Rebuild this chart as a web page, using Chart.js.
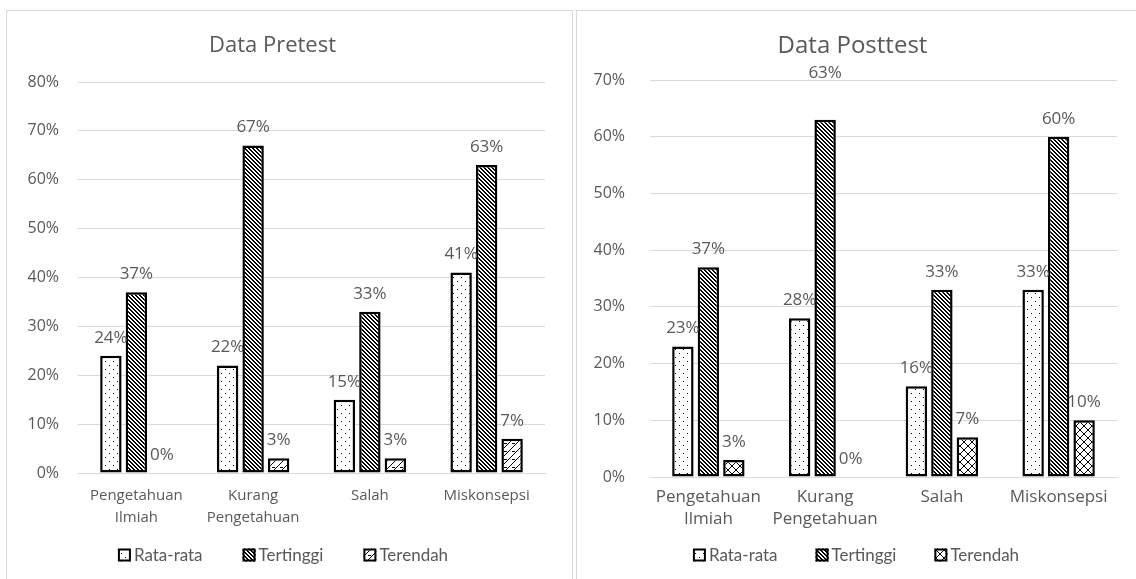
<!DOCTYPE html>
<html>
<head>
<meta charset="utf-8">
<script src="https://cdn.jsdelivr.net/npm/chart.js@4.4.1/dist/chart.umd.min.js"></script>
<style>
  html, body { margin: 0; padding: 0; background: #fff; }
  body { width: 1136px; height: 579px; position: relative; overflow: hidden; }
  .panel { position: absolute; border: 1px solid #d9d9d9; box-sizing: border-box; }
  canvas { position: absolute; top: 0; }
</style>
</head>
<body>
<div class="panel" style="left:6px; top:10px; width:567px; height:620px;"></div>
<div class="panel" style="left:576px; top:10px; width:620px; height:620px;"></div>
<canvas id="pre" width="574" height="579" style="left:0px;"></canvas>
<canvas id="post" width="562" height="579" style="left:574px;"></canvas>
<script>
// Categories (multi-line tick labels) and series, in percent
const categories = [['Pengetahuan', 'Ilmiah'], ['Kurang', 'Pengetahuan'], 'Salah', 'Miskonsepsi'];
const seriesNames = ['Rata-rata', 'Tertinggi', 'Terendah'];

const pretestRata = [24, 22, 15, 41];
const pretestTertinggi = [37, 67, 33, 63];
const pretestTerendah = [0, 3, 3, 7];

const posttestRata = [23, 28, 16, 33];
const posttestTertinggi = [37, 63, 33, 60];
const posttestTerendah = [3, 0, 7, 10];

const pretestTicksMax = 80;
const posttestTicksMax = 70;

const GREY = '#595959';

// Small monochrome fill patterns, one tile each
function makePattern(ctx, size, draw) {
  const c = document.createElement('canvas');
  c.width = size; c.height = size;
  const g = c.getContext('2d');
  g.fillStyle = '#ffffff';
  g.fillRect(0, 0, size, size);
  g.fillStyle = '#000000';
  draw(g, size);
  return ctx.createPattern(c, 'repeat');
}
const px = (g, x, y) => g.fillRect(x, y, 1, 1);

function dots(ctx) {
  return makePattern(ctx, 8, g => { px(g, 1, 1); px(g, 5, 5); });
}
function denseDown(ctx) {
  return makePattern(ctx, 4, g => {
    for (let i = 0; i < 4; i++) { px(g, i, i); px(g, (i + 1) % 4, i); }
  });
}
function wideUp(ctx) {
  return makePattern(ctx, 8, g => {
    for (let i = 0; i < 8; i++) { px(g, i, 7 - i); }
    px(g, 0, 3); px(g, 1, 3); px(g, 2, 3);
  });
}
function shingle(ctx) {
  return makePattern(ctx, 8, g => {
    for (let i = 0; i < 8; i++) { px(g, i, 7 - i); }
    for (let i = 0; i < 4; i++) { px(g, i, i + 4); }
    for (let i = 4; i < 8; i++) { px(g, i, i - 4); }
  });
}

// Value labels drawn above each bar
const valueLabels = {
  id: 'valueLabels',
  afterDatasetsDraw(chart, args, opts) {
    const ctx = chart.ctx;
    ctx.save();
    ctx.font = opts.font;
    ctx.fillStyle = opts.color;
    ctx.textAlign = 'center';
    ctx.textBaseline = 'middle';
    chart.data.datasets.forEach((ds, di) => {
      const meta = chart.getDatasetMeta(di);
      meta.data.forEach((bar, i) => {
        const extra = (opts.extra && opts.extra[di + ':' + i]) || 0;
        ctx.fillText(ds.data[i] + '%', bar.x, bar.y - opts.gap - extra);
      });
    });
    ctx.restore();
  }
};

// Legend row under the plot: small patterned squares followed by series names
const swatchLegend = {
  id: 'swatchLegend',
  afterDraw(chart, args, opts) {
    const ctx = chart.ctx;
    ctx.save();
    ctx.font = opts.font;
    ctx.textBaseline = 'middle';
    ctx.textAlign = 'left';
    const items = chart.data.datasets.map(ds => ({ ds, w: ctx.measureText(ds.label).width }));
    const total = items.reduce((s, it) => s + opts.box + opts.textGap + it.w, 0) + opts.gap * (items.length - 1);
    let x = opts.centerX - total / 2;
    const y = opts.y;
    items.forEach(it => {
      ctx.fillStyle = it.ds.backgroundColor;
      ctx.fillRect(x, y - opts.box / 2, opts.box, opts.box);
      ctx.lineWidth = 2;
      ctx.strokeStyle = '#000000';
      ctx.strokeRect(x + 1, y - opts.box / 2 + 1, opts.box - 2, opts.box - 2);
      ctx.fillStyle = opts.color;
      ctx.fillText(it.ds.label, x + opts.box + opts.textGap, y + 1);
      x += opts.box + opts.textGap + it.w + opts.gap;
    });
    ctx.restore();
  }
};

function buildChart(id, title, rata, tinggi, rendah, maxY, cfg) {
  const canvas = document.getElementById(id);
  const ctx = canvas.getContext('2d');
  const common = { borderColor: '#000000', borderWidth: 2.5, borderSkipped: false,
                   categoryPercentage: 0.655, barPercentage: 0.84 };
  return new Chart(ctx, {
    type: 'bar',
    data: {
      labels: categories,
      datasets: [
        Object.assign({ label: seriesNames[0], data: rata, backgroundColor: dots(ctx) }, common),
        Object.assign({ label: seriesNames[1], data: tinggi, backgroundColor: denseDown(ctx) }, common),
        Object.assign({ label: seriesNames[2], data: rendah, backgroundColor: cfg.lowPattern(ctx) }, common)
      ]
    },
    options: {
      responsive: false,
      animation: false,
      events: [],
      layout: { padding: { left: cfg.padLeft, right: cfg.padRight, top: 0, bottom: cfg.padBottom } },
      scales: {
        x: {
          grid: { display: false, drawTicks: false },
          border: { display: true, color: '#d9d9d9', width: 1 },
          ticks: { color: GREY, font: { family: 'Open Sans', size: cfg.catSize, lineHeight: cfg.catLine }, padding: cfg.catPad,
                   maxRotation: 0, autoSkip: false },
          afterFit: s => { s.height = 64; }
        },
        y: {
          min: 0, max: maxY,
          grid: { color: '#d9d9d9', lineWidth: 1, drawTicks: false },
          border: { display: false },
          ticks: { stepSize: 10, color: GREY, font: { family: 'Open Sans', size: 16 }, padding: cfg.tickPad,
                   callback: v => v + '%' },
          afterFit: s => { s.width = cfg.axisWidth; }
        }
      },
      plugins: {
        title: { display: true, text: title, color: GREY,
                 font: { family: 'Open Sans', size: cfg.titleSize, weight: 'normal', lineHeight: 1.2 },
                 padding: { top: cfg.titleTop, bottom: cfg.titleBottom } },
        legend: { display: false },
        tooltip: { enabled: false },
        valueLabels: { font: '17px "Open Sans"', color: GREY, gap: 18, extra: cfg.extra },
        swatchLegend: { font: '17px Lato', color: GREY, box: 13, textGap: 3, gap: cfg.legendGap, centerX: cfg.legendX, y: 555 }
      }
    },
    plugins: [valueLabels, swatchLegend]
  });
}

buildChart('pre', 'Data Pretest', pretestRata, pretestTertinggi, pretestTerendah, pretestTicksMax,
  { lowPattern: wideUp, padLeft: 0, padRight: 29, padBottom: 42, axisWidth: 78, tickPad: 19,
    titleSize: 22, titleTop: 33, titleBottom: 22.6, catSize: 15, catLine: 1.5, catPad: 11,
    legendX: 283, legendGap: 40, extra: {} });
buildChart('post', 'Data Posttest', posttestRata, posttestTertinggi, posttestTerendah, posttestTicksMax,
  { lowPattern: shingle, padLeft: 14, padRight: 19, padBottom: 38, axisWidth: 62, tickPad: 25,
    titleSize: 24, titleTop: 32, titleBottom: 19.2, catSize: 17, catLine: 1.3, catPad: 9,
    legendX: 282, legendGap: 38, extra: { '1:1': 29 } });
</script>
</body>
</html>
